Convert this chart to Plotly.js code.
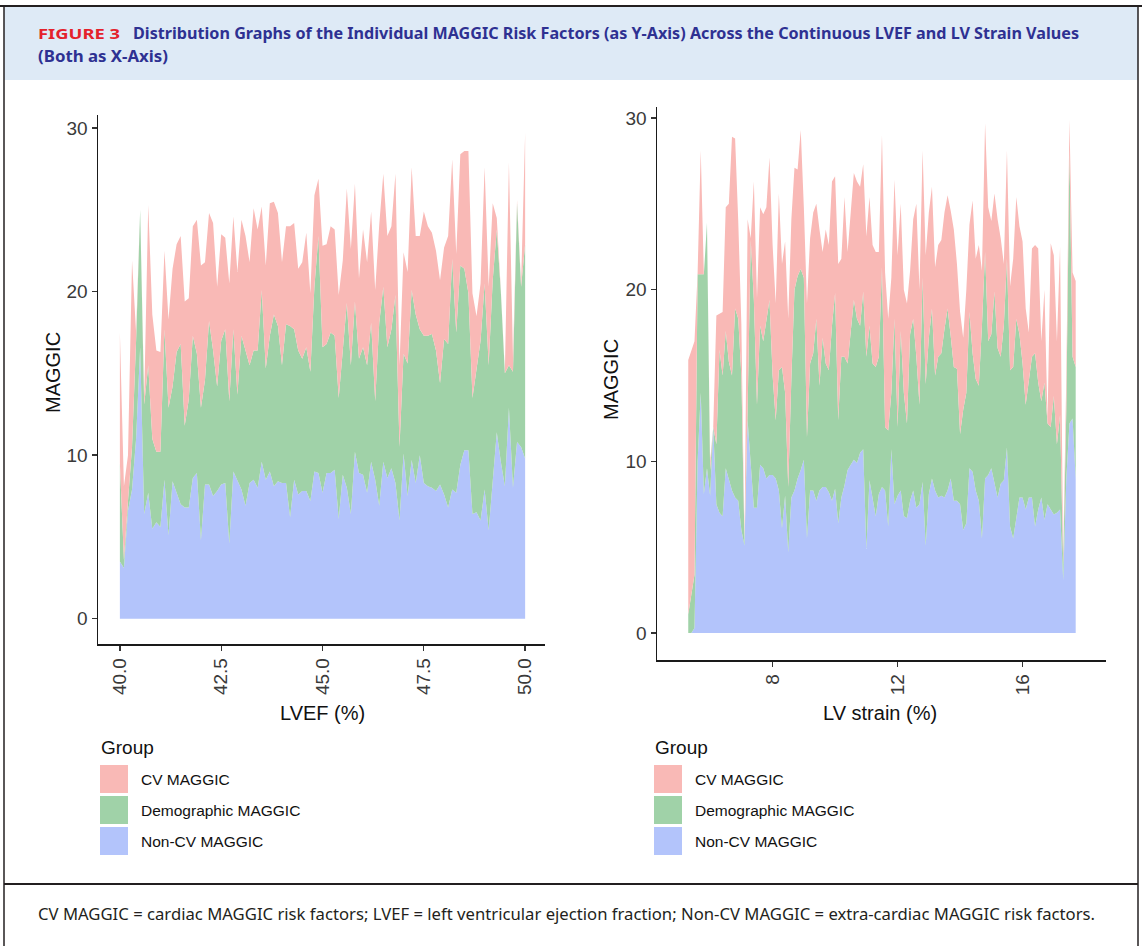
<!DOCTYPE html>
<html>
<head>
<meta charset="utf-8">
<script src="https://cdn.plot.ly/plotly-3.0.1.min.js"></script>
<style>
  html, body { margin: 0; padding: 0; background: #fff; }
  #wrap { position: relative; width: 1142px; height: 946px; overflow: hidden; background: #fff; }
  #frame { position: absolute; left: 0; top: 0; }
  #chart { position: absolute; left: 0; top: 0; width: 1142px; height: 946px; }
  .hd { font-family: 'Noto Sans', 'DejaVu Sans Condensed', sans-serif; font-stretch: condensed; }
</style>
</head>
<body>
<div id="wrap">
  <svg id="frame" width="1142" height="946" xmlns="http://www.w3.org/2000/svg">
    <rect x="4" y="7" width="1134" height="73" fill="#DEEAF6"/>
    <line x1="0" y1="6" x2="1142" y2="6" stroke="#231f20" stroke-width="2"/>
    <line x1="4" y1="6" x2="4" y2="946" stroke="#231f20" stroke-width="1.5"/>
    <line x1="1138" y1="6" x2="1138" y2="946" stroke="#231f20" stroke-width="1.5"/>
    <line x1="4" y1="884" x2="1138" y2="884" stroke="#231f20" stroke-width="2"/>
    <text class="hd" x="38" y="39" font-weight="bold" font-size="15" fill="#E4212B" textLength="82" lengthAdjust="spacingAndGlyphs">FIGURE 3</text>
    <text class="hd" x="133" y="39" font-weight="bold" font-size="16" fill="#2E3192" textLength="946" lengthAdjust="spacingAndGlyphs">Distribution Graphs of the Individual MAGGIC Risk Factors (as Y-Axis) Across the Continuous LVEF and LV Strain Values</text>
    <text class="hd" x="38" y="62" font-weight="bold" font-size="16" fill="#2E3192" textLength="130" lengthAdjust="spacingAndGlyphs">(Both as X-Axis)</text>
    <text class="hd" x="38" y="920" font-size="16" fill="#231f20" textLength="1057" lengthAdjust="spacingAndGlyphs">CV MAGGIC = cardiac MAGGIC risk factors; LVEF = left ventricular ejection fraction; Non-CV MAGGIC = extra-cardiac MAGGIC risk factors.</text>
  </svg>
  <div id="chart"></div>
</div>
<script>
// ---------------- DATA ----------------
const groups = ['CV MAGGIC', 'Demographic MAGGIC', 'Non-CV MAGGIC'];
const groupColors = ['#F9B9B6', '#A0D2A8', '#B3C4FB'];

const lvef = [40.0,40.1,40.2,40.3,40.4,40.5,40.6,40.7,40.8,40.9,
  41.0,41.1,41.2,41.3,41.4,41.5,41.6,41.7,41.8,41.9,
  42.0,42.1,42.2,42.3,42.4,42.5,42.6,42.7,42.8,42.9,
  43.0,43.1,43.2,43.3,43.4,43.5,43.6,43.7,43.8,43.9,
  44.0,44.1,44.2,44.3,44.4,44.5,44.6,44.7,44.8,44.9,
  45.0,45.1,45.2,45.3,45.4,45.5,45.6,45.7,45.8,45.9,
  46.0,46.1,46.2,46.3,46.4,46.5,46.6,46.7,46.8,46.9,
  47.0,47.1,47.2,47.3,47.4,47.5,47.6,47.7,47.8,47.9,
  48.0,48.1,48.2,48.3,48.4,48.5,48.6,48.7,48.8,48.9,
  49.0,49.1,49.2,49.3,49.4,49.5,49.6,49.7,49.8,49.9,
  50.0];

const lvefNonCV = [3.5,3.1,6.6,7.9,11.0,16.6,6.4,7.7,5.5,5.9,
  5.6,8.5,5.1,8.4,7.7,7.0,6.8,6.8,8.6,8.9,
  4.8,8.2,8.2,7.5,7.8,8.2,8.3,4.6,9.0,8.4,
  7.9,6.9,8.3,8.5,8.0,9.6,8.5,9.0,8.1,8.4,
  8.3,8.3,6.2,8.5,7.6,7.8,7.8,7.2,9.0,8.9,
  7.7,8.9,8.9,9.1,6.1,8.8,8.0,6.4,10.2,8.9,
  8.8,7.7,9.6,8.5,6.9,9.6,8.6,9.2,8.3,6.0,
  10.1,7.5,9.7,8.3,10.0,8.3,8.1,8.0,7.8,8.2,
  7.6,6.8,7.9,7.7,9.4,10.3,10.3,6.4,6.5,6.0,
  7.9,5.4,8.5,11.4,9.6,8.1,12.9,8.0,10.8,10.5,
  9.8];

const lvefDemo = [6.0,0.5,0.6,2.6,6.0,8.4,6.7,7.8,5.5,4.3,
  4.6,9.2,7.8,5.8,8.6,9.8,5.0,6.6,8.7,7.3,
  8.1,6.4,10.0,8.9,6.4,8.8,9.4,8.7,8.7,5.3,
  9.4,9.5,7.2,7.9,8.4,10.5,6.8,8.3,10.5,9.5,
  7.2,9.7,11.7,9.2,8.8,8.1,8.8,7.9,11.3,14.5,
  8.9,7.9,8.6,8.2,7.4,7.6,11.3,9.1,9.2,7.0,
  7.8,7.8,8.5,4.8,11.2,10.7,8.0,8.5,11.5,4.5,
  6.1,8.1,10.4,10.3,7.7,9.0,9.2,9.4,8.6,6.2,
  9.5,10.0,14.1,9.8,12.2,11.1,9.6,7.1,8.6,11.0,
  12.6,10.1,12.2,12.4,10.4,6.9,2.6,7.1,14.6,9.8,
  13.1];

const lvefCV = [8.0,4.5,2.8,11.4,0.5,0.0,0.4,9.8,7.6,6.2,
  6.1,4.8,5.4,7.2,6.6,6.6,7.6,6.2,6.7,8.2,
  8.7,7.2,6.6,7.8,6.1,6.5,5.6,7.2,6.9,7.5,
  7.1,7.0,6.3,8.7,7.4,5.1,6.3,8.1,6.9,6.9,
  6.3,6.0,6.1,6.5,5.0,5.9,7.0,4.8,5.6,3.5,
  6.2,6.1,6.5,6.5,6.3,5.5,7.0,7.1,7.2,4.9,
  7.2,6.3,6.8,6.8,6.0,6.9,6.8,6.3,7.4,5.0,
  6.2,5.6,7.5,4.8,5.7,7.6,6.7,6.2,6.1,6.3,
  5.6,6.6,6.1,4.8,6.8,7.2,8.7,6.4,3.4,3.5,
  7.1,4.8,4.7,0.7,0.1,0.1,12.4,0.9,0.2,0.2,
  6.8];

const strain = [5.3,5.4,5.5,5.6,5.7,5.8,5.9,6.0,6.1,6.2,
  6.3,6.4,6.5,6.6,6.7,6.8,6.9,7.0,7.1,7.2,
  7.3,7.4,7.5,7.6,7.7,7.8,7.9,8.0,8.1,8.2,
  8.3,8.4,8.5,8.6,8.7,8.8,8.9,9.0,9.1,9.2,
  9.3,9.4,9.5,9.6,9.7,9.8,9.9,10.0,10.1,10.2,
  10.3,10.4,10.5,10.6,10.7,10.8,10.9,11.0,11.1,11.2,
  11.3,11.4,11.5,11.6,11.7,11.8,11.9,12.0,12.1,12.2,
  12.3,12.4,12.5,12.6,12.7,12.8,12.9,13.0,13.1,13.2,
  13.3,13.4,13.5,13.6,13.7,13.8,13.9,14.0,14.1,14.2,
  14.3,14.4,14.5,14.6,14.7,14.8,14.9,15.0,15.1,15.2,
  15.3,15.4,15.5,15.6,15.7,15.8,15.9,16.0,16.1,16.2,
  16.3,16.4,16.5,16.6,16.7,16.8,16.9,17.0,17.1,17.2,
  17.3,17.4,17.5,17.6,17.7];

const strainNonCV = [0,0,0.3,10.0,14.0,8.1,9.6,8.0,12.0,7.5,
  7.0,6.8,9.6,9.0,8.3,7.9,7.7,6.0,5.1,12.4,
  10.0,7.3,7.3,9.8,9.6,9.0,9.2,9.2,9.0,8.3,
  6.1,8.0,4.7,7.9,8.3,9.0,9.5,10.1,5.5,8.3,
  8.3,7.7,8.3,8.5,8.5,8.2,7.7,8.4,6.4,7.9,
  8.6,9.5,9.8,10.1,9.9,10.5,10.7,4.9,8.9,7.9,
  6.8,8.1,8.5,8.3,6.2,10.7,7.5,8.0,8.3,6.8,
  6.7,7.7,8.3,7.3,7.5,8.8,5.1,8.1,9.0,8.3,
  7.9,8.0,7.9,8.3,9.0,7.7,7.7,7.5,6.0,6.4,
  9.6,9.4,8.3,7.7,5.5,9.0,9.2,9.6,8.7,7.9,
  8.7,8.9,10.8,6.2,5.5,6.8,7.9,7.9,7.2,7.9,
  7.9,6.2,7.2,7.9,6.6,7.5,7.2,6.9,7.0,7.2,
  3.1,9.0,12.2,12.5,9.0];

const strainDemo = [1.1,2.2,3.1,10.9,6.9,12.8,14.3,1.5,0,3.5,
  9.5,8.2,8.0,6.8,6.7,11.0,10.6,9.0,0.2,0.6,
  12.9,12.1,6.0,8.1,7.4,9.3,10.2,5.8,3.4,7.0,
  9.4,6.0,3.8,6.9,11.7,11.8,11.7,10.6,5.9,7.4,
  8.0,10.6,6.1,8.7,7.2,7.1,10.2,11.4,6.0,8.2,
  7.5,6.2,7.7,9.3,8.4,7.4,9.2,11.2,9.0,7.8,
  8.7,8.0,12.8,3.7,5.6,3.3,10.8,4.0,9.3,7.2,
  5.5,9.7,10.0,8.8,5.8,11.9,9.4,9.1,9.9,6.7,
  8.2,8.3,9.8,10.6,8.3,7.8,7.7,4.1,7.0,7.6,
  9.1,6.9,6.5,6.7,12.4,13.2,7.8,7.8,11.2,8.7,
  7.4,9.0,11.0,9.1,10.0,11.5,9.5,7.8,6.1,6.9,
  8.2,10.1,7.4,5.6,8.0,4.7,4.8,6.9,4.0,5.5,
  0.9,4.0,15.9,3.6,6.5];

const strainCV = [14.8,14.3,13.6,0.1,7.2,0.0,0.0,0.5,0,7.5,
  2.1,3.7,7.2,9.2,13.9,9.9,5.7,3.0,0,11.1,
  0.1,6.9,6.2,6.9,7.4,6.5,8.3,7.6,6.8,10.3,
  6.0,8.8,9.8,9.3,7.1,6.2,8.1,4.1,7.8,7.3,
  8.2,6.7,9.1,5.0,7.8,7.3,8.4,6.8,9.1,5.7,
  9.3,6.5,7.0,7.4,8.0,8.1,7.4,7.0,7.5,6.9,
  6.7,6.1,7.7,9.0,6.5,6.7,8.1,10.0,7.4,6.0,
  7.0,3.7,5.8,8.9,6.7,7.4,7.5,7.3,7.1,6.3,
  6.5,6.6,6.8,6.6,7.3,8.0,6.1,7.1,4.2,6.0,
  5.1,8.9,7.0,8.2,3.2,7.5,7.8,6.6,5.7,7.5,
  6.9,3.6,6.3,4.9,6.3,7.1,6.3,7.1,5.6,2.7,
  6.3,6.3,7.8,3.5,5.4,0.2,10.7,8.2,6.0,9.8,
  0.5,2.0,1.8,4.9,5.0];

const lvefTicks = [40, 42.5, 45, 47.5, 50];
const strainTicks = [8, 12, 16];
const maggicTicks = [0, 10, 20, 30];

// ---------------- CHART ----------------
const W = 1142, H = 946;
const px = x => x / W;
const py = y => 1 - y / H;

function stack(xs, series, sg, xa, ya) {
  // stacked bottom -> top: Non-CV, Demographic, CV
  const order = [2, 1, 0];
  return order.map(gi => ({
    type: 'scatter', mode: 'lines', x: xs, y: series[gi],
    name: groups[gi], stackgroup: sg, xaxis: xa, yaxis: ya,
    line: { width: 0, color: groupColors[gi] }, fillcolor: groupColors[gi],
    showlegend: false, hoverinfo: 'skip'
  }));
}

const traces = [
  ...stack(lvef, [lvefCV, lvefDemo, lvefNonCV], 'left', 'x', 'y'),
  ...stack(strain, [strainCV, strainDemo, strainNonCV], 'right', 'x2', 'y2')
];

const tickFont = { family: 'Liberation Sans, Arial, sans-serif', size: 19, color: '#3a3a3a' };
const axBase = {
  showgrid: false, zeroline: false, showline: true, linecolor: '#1a1a1a', linewidth: 1.5,
  ticks: 'outside', ticklen: 5, tickwidth: 1.3, tickcolor: '#333', tickfont: tickFont, fixedrange: true
};

const shapes = [], annotations = [];
function legendAt(x0) {
  annotations.push({ xref: 'paper', yref: 'paper', x: px(x0 - 1), y: py(747), xanchor: 'left', yanchor: 'middle',
    text: 'Group', showarrow: false, font: { family: 'Liberation Sans, Arial, sans-serif', size: 19, color: '#111' } });
  groups.forEach((g, i) => {
    const top = 765 + 31 * i;
    shapes.push({ type: 'rect', xref: 'paper', yref: 'paper', x0: px(x0), x1: px(x0 + 28), y0: py(top + 28), y1: py(top),
      fillcolor: groupColors[i], line: { width: 0 } });
    annotations.push({ xref: 'paper', yref: 'paper', x: px(x0 + 39), y: py(top + 14), xanchor: 'left', yanchor: 'middle',
      text: g, showarrow: false, font: { family: 'Liberation Sans, Arial, sans-serif', size: 15.5, color: '#111' } });
  });
}
legendAt(100);
legendAt(654);

const titleFont = { family: 'Liberation Sans, Arial, sans-serif', size: 20, color: '#111' };
annotations.push({ xref: 'paper', yref: 'paper', x: px(53), y: py(372), text: 'MAGGIC', textangle: -90, showarrow: false, font: titleFont, xanchor: 'center', yanchor: 'middle' });
annotations.push({ xref: 'paper', yref: 'paper', x: px(611), y: py(380), text: 'MAGGIC', textangle: -90, showarrow: false, font: titleFont, xanchor: 'center', yanchor: 'middle' });
annotations.push({ xref: 'paper', yref: 'paper', x: px(322), y: py(713), text: 'LVEF (%)', showarrow: false, font: titleFont, xanchor: 'center', yanchor: 'middle' });
annotations.push({ xref: 'paper', yref: 'paper', x: px(880), y: py(713), text: 'LV strain (%)', showarrow: false, font: titleFont, xanchor: 'center', yanchor: 'middle' });

const layout = {
  width: W, height: H, margin: { l: 0, r: 0, t: 0, b: 0 },
  paper_bgcolor: 'rgba(0,0,0,0)', plot_bgcolor: 'rgba(0,0,0,0)',
  showlegend: false,
  xaxis: Object.assign({}, axBase, { domain: [px(98), px(545)], range: [39.46, 50.49], tickvals: lvefTicks, tickformat: '.1f', tickangle: -90, anchor: 'y' }),
  yaxis: Object.assign({}, axBase, { domain: [py(644), py(115)], range: [-1.55, 30.8], tickvals: maggicTicks, anchor: 'x' }),
  xaxis2: Object.assign({}, axBase, { domain: [px(657), px(1106)], range: [4.30, 18.67], tickvals: strainTicks, tickangle: -90, anchor: 'y2' }),
  yaxis2: Object.assign({}, axBase, { domain: [py(660), py(107)], range: [-1.57, 30.64], tickvals: maggicTicks, anchor: 'x2' }),
  shapes: shapes, annotations: annotations
};

Plotly.newPlot('chart', traces, layout, { displayModeBar: false, staticPlot: true });
</script>
</body>
</html>
